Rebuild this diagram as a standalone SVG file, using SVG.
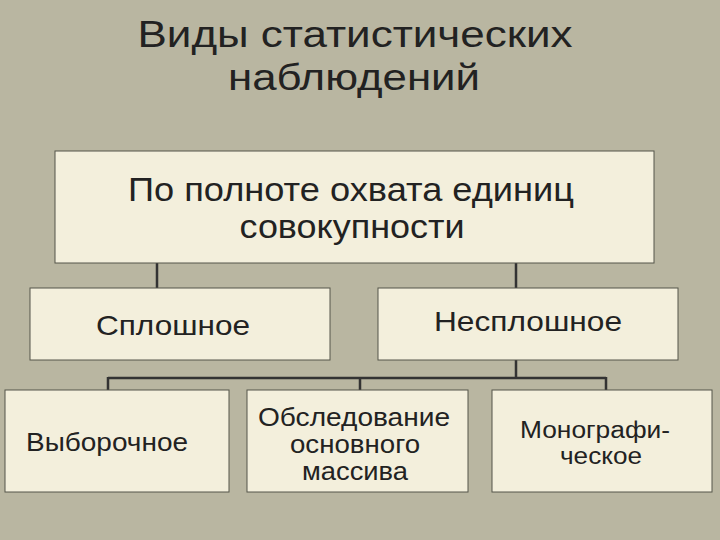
<svg xmlns="http://www.w3.org/2000/svg" width="720" height="540" viewBox="0 0 720 540">
<style>
.box{fill:#f3efdc;stroke:#55554a;stroke-width:1}
text{font-family:"Liberation Sans",Arial,sans-serif;fill:#222;text-anchor:middle}
.t{font-size:37px}
.l1{font-size:33px}
.l2{font-size:28px}
.l3{font-size:25px}
.l4{font-size:23px}
.c{stroke:#333;stroke-width:2.5;fill:none}
</style>
<rect width="720" height="540" fill="#b9b6a1"/>
<g id="title">
<text class="t" x="355" y="47" textLength="435" lengthAdjust="spacingAndGlyphs">Виды статистических</text>
<text class="t" x="354" y="90" textLength="252" lengthAdjust="spacingAndGlyphs">наблюдений</text>
</g>
<g id="connectors">
<path class="c" d="M157 263V288M516 263V288M516 360V378M108 378H606M108 377V390M360 377V390M606 377V390"/>
</g>
<g id="root">
<rect class="box" x="55" y="151" width="599" height="112"/>
<text class="l1" x="351" y="201" textLength="446" lengthAdjust="spacingAndGlyphs">По полноте охвата единиц</text>
<text class="l1" x="352" y="238" textLength="225" lengthAdjust="spacingAndGlyphs">совокупности</text>
</g>
<g id="sploshnoe">
<rect class="box" x="30" y="288" width="300" height="72"/>
<text class="l2" x="173" y="335" textLength="154" lengthAdjust="spacingAndGlyphs">Сплошное</text>
</g>
<g id="nesploshnoe">
<rect class="box" x="378" y="288" width="300" height="72"/>
<text class="l2" x="528" y="331" textLength="188" lengthAdjust="spacingAndGlyphs">Несплошное</text>
</g>
<g id="vyborochnoe">
<rect class="box" x="5" y="390" width="224" height="102"/>
<text class="l3" x="107" y="451" textLength="162" lengthAdjust="spacingAndGlyphs">Выборочное</text>
</g>
<g id="obsledovanie">
<rect class="box" x="247" y="390" width="221" height="102"/>
<text class="l3" x="354" y="426" textLength="192" lengthAdjust="spacingAndGlyphs">Обследование</text>
<text class="l3" x="355" y="453" textLength="130" lengthAdjust="spacingAndGlyphs">основного</text>
<text class="l3" x="355" y="480" textLength="106" lengthAdjust="spacingAndGlyphs">массива</text>
</g>
<g id="monograficheskoe">
<rect class="box" x="492" y="390" width="220" height="102"/>
<text class="l4" x="595" y="438" textLength="150" lengthAdjust="spacingAndGlyphs">Монографи-</text>
<text class="l4" x="601" y="464" textLength="82" lengthAdjust="spacingAndGlyphs">ческое</text>
</g>
</svg>
